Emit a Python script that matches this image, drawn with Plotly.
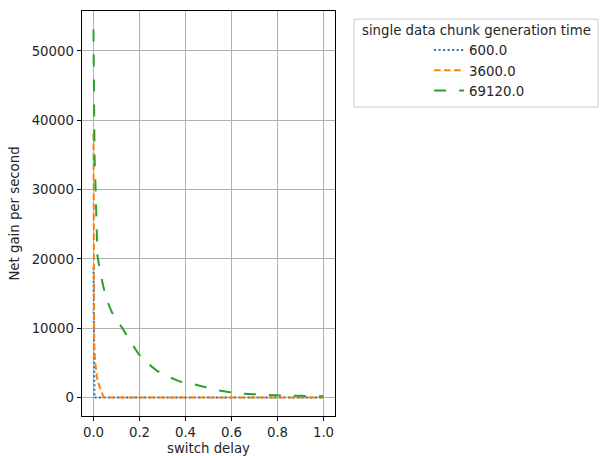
import plotly.graph_objects as go

# ---- data ----
series_names = ["600.0", "3600.0", "69120.0"]

x_600 = [0, 0.001, 0.002, 0.004, 0.02, 0.2, 0.4, 0.6, 0.8, 1.0]
y_600 = [18800, 8000, 3000, 0, 0, 0, 0, 0, 0, 0]

x_3600 = [0, 0.001, 0.002, 0.003, 0.006, 0.01, 0.015, 0.022, 0.029, 0.037, 0.0435, 0.05, 0.2, 0.4, 0.6, 0.8, 1.0]
y_3600 = [38100, 20000, 12000, 8000, 5600, 4200, 2900, 2000, 1450, 700, 100, 0, 0, 0, 0, 0, 0]

x_69120 = [0, 0.001, 0.003, 0.0045, 0.0087, 0.012, 0.017, 0.03, 0.0435, 0.06, 0.08, 0.1,
           0.124, 0.16, 0.196, 0.24, 0.276, 0.334, 0.377, 0.435, 0.479, 0.537, 0.588,
           0.646, 0.697, 0.755, 0.82, 0.9, 1.0]
y_69120 = [53100, 46000, 38000, 34600, 30600, 26250, 20500, 18000, 15900, 13900, 12300, 11200,
           10100, 8100, 6300, 4830, 3860, 2890, 2310, 1930, 1590, 1070, 820,
           580, 490, 390, 300, 250, 200]

x_ticks = [0.0, 0.2, 0.4, 0.6, 0.8, 1.0]
x_tick_labels = ["0.0", "0.2", "0.4", "0.6", "0.8", "1.0"]
y_ticks = [0, 10000, 20000, 30000, 40000, 50000]
y_tick_labels = ["0", "10000", "20000", "30000", "40000", "50000"]

legend_title = "single data chunk generation time"
x_title = "switch delay"
y_title = "Net gain per second"

colors = ["#1f77b4", "#ff7f0e", "#2ca02c"]
dashes = ["2px,2.5px", "6.5px,3.5px", "12px,13px"]

FONT = "DejaVu Sans, Liberation Sans, sans-serif"
TXT = "#262626"
FS = 13.3

fig = go.Figure()
for name, xs, ys, c, d in zip(series_names,
                              [x_600, x_3600, x_69120],
                              [y_600, y_3600, y_69120],
                              colors, dashes):
    fig.add_trace(go.Scatter(x=xs, y=ys, mode="lines", name=name,
                             line=dict(color=c, width=2, dash=d)))

ymax = max(y_69120)
fig.update_layout(
    width=601, height=456,
    margin=dict(l=82, r=266, t=11, b=40, autoexpand=False),
    paper_bgcolor="white", plot_bgcolor="white",
    font=dict(family=FONT, size=FS, color=TXT),
    showlegend=True,
    legend=dict(x=1.372, y=0.941, xanchor="left", yanchor="top",
                bgcolor="rgba(0,0,0,0)", borderwidth=0,
                font=dict(family=FONT, size=FS, color=TXT),
                tracegroupgap=0, itemwidth=30),
    xaxis=dict(range=[-0.05, 1.05], tickvals=x_ticks, ticktext=x_tick_labels,
               showgrid=True, gridcolor="#b0b0b0", gridwidth=0.8,
               showline=True, linecolor="black", linewidth=0.8, mirror=True,
               ticks="outside", ticklen=4.5, tickcolor="black", tickwidth=0.8,
               zeroline=False, automargin=False,
               title=dict(text=x_title, standoff=6, font=dict(size=FS))),
    yaxis=dict(range=[-0.05 * ymax, 1.05 * ymax], tickvals=y_ticks, ticktext=y_tick_labels,
               showgrid=True, gridcolor="#b0b0b0", gridwidth=0.8,
               showline=True, linecolor="black", linewidth=0.8, mirror=True,
               ticks="outside", ticklen=4.5, tickcolor="black", tickwidth=0.8,
               zeroline=False, automargin=False,
               title=dict(text=y_title, standoff=8, font=dict(size=FS))),
)

# legend frame and centred title (matplotlib style)
fig.add_shape(type="rect", xref="paper", yref="paper",
              x0=1.075, x1=2.04, y0=0.763, y1=0.980,
              line=dict(color="#cccccc", width=1), fillcolor="rgba(255,255,255,0.8)",
              layer="below")
fig.add_annotation(xref="paper", yref="paper", x=1.56, y=0.953,
                   text=legend_title, showarrow=False,
                   xanchor="center", yanchor="middle",
                   font=dict(family=FONT, size=FS, color=TXT))

fig.write_html("out.html")
